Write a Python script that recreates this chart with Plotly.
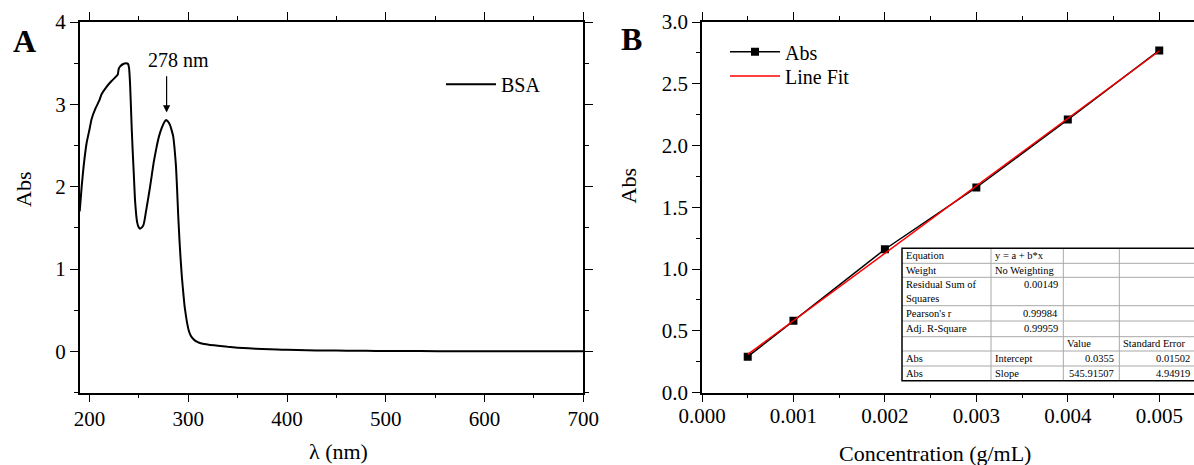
import plotly.graph_objects as go

# ---------------- Panel A data: BSA UV-Vis spectrum ----------------
wavelength_nm = [190, 192, 194, 197, 200, 202, 206, 210, 212, 217, 222, 227, 228.5, 229.5, 231,
                 234, 237, 239, 240, 241, 241.8, 242.7, 243.6, 244.8, 246, 247.2, 248.3, 249.6,
                 251, 252.5, 254.4, 255.8, 257, 258, 259.4, 261, 262.9, 265, 268, 270.5, 273,
                 275.5, 277.5, 279.5, 281.4, 283, 284.7, 286, 287.5, 288.7, 289.8, 291, 292.2,
                 293.5, 294.9, 296.2, 297.6, 299, 300.5, 302.5, 305, 308, 311, 316, 322, 330,
                 340, 350, 361, 375, 390, 400, 420, 440, 460, 480, 500, 535, 570, 600, 650, 700]
absorbance = [1.70, 2.00, 2.25, 2.53, 2.70, 2.82, 2.95, 3.05, 3.12, 3.21, 3.28, 3.34, 3.36, 3.43,
              3.46, 3.49, 3.50, 3.49, 3.44, 3.25, 3.00, 2.70, 2.45, 2.15, 1.84, 1.66, 1.56, 1.51,
              1.49, 1.50, 1.53, 1.60, 1.69, 1.76, 1.86, 1.98, 2.13, 2.30, 2.49, 2.62, 2.71,
              2.78, 2.81, 2.79, 2.75, 2.69, 2.61, 2.47, 2.25, 1.95, 1.64, 1.36, 1.12,
              0.90, 0.71, 0.55, 0.43, 0.33, 0.25, 0.19, 0.15, 0.12, 0.105, 0.088, 0.078, 0.068,
              0.055, 0.045, 0.036, 0.027, 0.021, 0.018, 0.013, 0.010, 0.008, 0.006, 0.005, 0.003,
              0.002, 0.001, 0.0005, 0.0]
peak_nm = 278
peak_label = "278 nm"

# ---------------- Panel B data: calibration ----------------
concentration = [0.0005, 0.001, 0.002, 0.003, 0.004, 0.005]
abs_values = [0.29, 0.58, 1.16, 1.66, 2.21, 2.77]
fit_x = [0.0005, 0.005]
fit_y = [0.308, 2.765]

# fit-result table (text per column, rows top to bottom)
table_col0 = ["Equation", "Weight", "Residual Sum of<br>Squares", "Pearson's r", "Adj. R-Square", "", "Abs", "Abs"]
table_col1 = ["y = a + b*x", "No Weighting", "0.00149", "0.99984", "0.99959", "", "Intercept", "Slope"]
table_col2 = ["", "", "", "", "", "Value", "0.0355", "545.91507"]
table_col3 = ["", "", "", "", "", "Standard Error", "0.01502", "4.94919"]
table_align = [["left"] * 8,
               ["left", "left", "right", "right", "right", "left", "left", "left"],
               ["left"] * 6 + ["right", "right"],
               ["left"] * 6 + ["right", "right"]]

FONT = "Liberation Serif"
OFF = 0                      # page body margin is reset to 0 by the post script
W, H = 1194 - OFF, 465 - OFF


def px_x(p):
    return (p - OFF) / W


def px_y(p):
    return 1 - (p - OFF) / H


fig = go.Figure()

fig.add_trace(go.Scatter(
    x=wavelength_nm, y=absorbance, mode="lines", name="BSA",
    line=dict(color="black", width=2, shape="spline", smoothing=0.4),
    xaxis="x", yaxis="y", legend="legend"))

fig.add_trace(go.Scatter(
    x=concentration, y=abs_values, mode="lines+markers", name="Abs",
    line=dict(color="black", width=1.5),
    marker=dict(symbol="square", size=8, color="black"),
    xaxis="x2", yaxis="y2", legend="legend2"))

fig.add_trace(go.Scatter(
    x=fit_x, y=fit_y, mode="lines", name="Line Fit",
    line=dict(color="#ff0000", width=1.5),
    xaxis="x2", yaxis="y2", legend="legend3"))

axis_common = dict(showline=True, linecolor="black", linewidth=1.5, mirror="ticks",
                   ticks="outside", ticklen=8, tickwidth=1.3, tickcolor="black",
                   showgrid=False, zeroline=False, automargin=False,
                   tickfont=dict(family=FONT, size=21, color="black"))

ydom = [px_y(392.5), px_y(22)]
leg_font = dict(family=FONT, size=20, color="black")

fig.update_layout(
    template="none",
    width=W, height=H, autosize=False,
    margin=dict(l=0, r=0, t=0, b=0, pad=0, autoexpand=False),
    paper_bgcolor="white", plot_bgcolor="white",
    font=dict(family=FONT, size=20, color="black"),
    xaxis=dict(domain=[px_x(79.7), px_x(583.3)], range=[190, 700], tick0=200, dtick=100,
               ticklabelstandoff=-1,
               minor=dict(dtick=50, tick0=200, ticklen=4, ticks="outside", tickcolor="black",
                          showgrid=False),
               anchor="y", **axis_common),
    yaxis=dict(domain=ydom, range=[-0.5, 4], tick0=0, dtick=1,
               minor=dict(dtick=0.5, tick0=0, ticklen=4, ticks="outside", tickcolor="black",
                          showgrid=False),
               anchor="x", **axis_common),
    xaxis2=dict(domain=[px_x(702), 1.0], range=[0, 0.00538], tick0=0, dtick=0.001,
                tickformat=".3f", ticklabelstandoff=-4,
                minor=dict(dtick=0.0005, tick0=0, ticklen=4, ticks="outside", tickcolor="black",
                           showgrid=False),
                anchor="y2", **axis_common),
    yaxis2=dict(domain=ydom, range=[0, 3], tick0=0, dtick=0.5, tickformat=".1f",
                minor=dict(dtick=0.25, tick0=0, ticklen=4, ticks="outside", tickcolor="black",
                           showgrid=False),
                anchor="x2", **axis_common),
    legend=dict(x=px_x(441), y=px_y(84.3), xanchor="left", yanchor="middle",
                bgcolor="rgba(0,0,0,0)", font=leg_font, itemwidth=50),
    legend2=dict(x=px_x(725), y=px_y(51.7), xanchor="left", yanchor="middle",
                 bgcolor="rgba(0,0,0,0)", font=leg_font, itemwidth=50),
    legend3=dict(x=px_x(725), y=px_y(76), xanchor="left", yanchor="middle",
                 bgcolor="rgba(0,0,0,0)", font=leg_font, itemwidth=50),
    showlegend=True,
)

# ---------------- table drawn as shapes + text ----------------
col_edges = [902, 991, 1063.3, 1119.3, 1195]
row_edges = [248.3, 263.3, 277.3, 305.7, 321, 336.7, 351, 366, 380.7]
grid_color = "#a8a8a8"

shapes = [dict(type="rect", xref="paper", yref="paper", layer="above",
               x0=px_x(col_edges[0]), x1=px_x(col_edges[-1]),
               y0=px_y(row_edges[-1]), y1=px_y(row_edges[0]),
               fillcolor="white", line=dict(width=0))]
for r in row_edges[1:-1]:
    shapes.append(dict(type="line", xref="paper", yref="paper", layer="above",
                       x0=px_x(col_edges[0]), x1=px_x(col_edges[-1]), y0=px_y(r), y1=px_y(r),
                       line=dict(color=grid_color, width=1)))
for c in col_edges[1:-1]:
    shapes.append(dict(type="line", xref="paper", yref="paper", layer="above",
                       x0=px_x(c), x1=px_x(c), y0=px_y(row_edges[-1]), y1=px_y(row_edges[0]),
                       line=dict(color=grid_color, width=1)))
shapes.append(dict(type="rect", xref="paper", yref="paper", layer="above",
                   x0=px_x(col_edges[0]), x1=px_x(col_edges[-1]) + 0.01,
                   y0=px_y(row_edges[-1]), y1=px_y(row_edges[0]),
                   line=dict(color="black", width=1.5)))

table_font = dict(family=FONT, size=10.5, color="black")
annotations = []
columns = [table_col0, table_col1, table_col2, table_col3]
for ci, col in enumerate(columns):
    for ri, txt in enumerate(col):
        if not txt:
            continue
        top, bot = row_edges[ri], row_edges[ri + 1]
        if "<br>" in txt or (bot - top) < 20:
            yc = (top + bot) / 2
        else:
            yc = top + 7.5
        al = table_align[ci][ri]
        if al == "left":
            xp, xa = col_edges[ci] + 2, "left"
        else:
            xp, xa = col_edges[ci + 1] - 3.5, "right"
        annotations.append(dict(text=txt, x=px_x(xp), y=px_y(yc), xref="paper", yref="paper",
                                xanchor=xa, yanchor="middle", align="left",
                                showarrow=False, font=table_font))

ann_font = dict(family=FONT, size=22, color="black")
center = dict(xref="paper", yref="paper", xanchor="center", yanchor="middle", showarrow=False)
annotations += [
    dict(text="<b>A</b>", x=px_x(24), y=px_y(41),
         font=dict(family=FONT, size=32, color="black"), **center),
    dict(text="<b>B</b>", x=px_x(631), y=px_y(39),
         font=dict(family=FONT, size=32, color="black"), **center),
    dict(text="λ (nm)", x=px_x(338), y=px_y(451), font=ann_font, **center),
    dict(text="Concentration (g/mL)", x=px_x(935), y=px_y(453), font=ann_font, **center),
    dict(text="Abs", x=px_x(23), y=px_y(190), textangle=-90, font=ann_font, **center),
    dict(text="Abs", x=px_x(628), y=px_y(186.5), textangle=-90, font=ann_font, **center),
    dict(text=peak_label, x=peak_nm + 12.5, y=3.54, xref="x", yref="y",
         xanchor="center", yanchor="middle",
         showarrow=False, font=dict(family=FONT, size=20, color="black")),
    dict(text="", x=peak_nm, y=2.90, ax=peak_nm, ay=3.36, xref="x", yref="y",
         axref="x", ayref="y", showarrow=True, arrowhead=2, arrowsize=1.2,
         arrowwidth=1.2, arrowcolor="black"),
]
fig.update_layout(shapes=shapes, annotations=annotations)

fig.write_html("out.html",
               config={"displayModeBar": False},
               post_script="document.body.style.margin='0';document.body.style.overflow='hidden';")
